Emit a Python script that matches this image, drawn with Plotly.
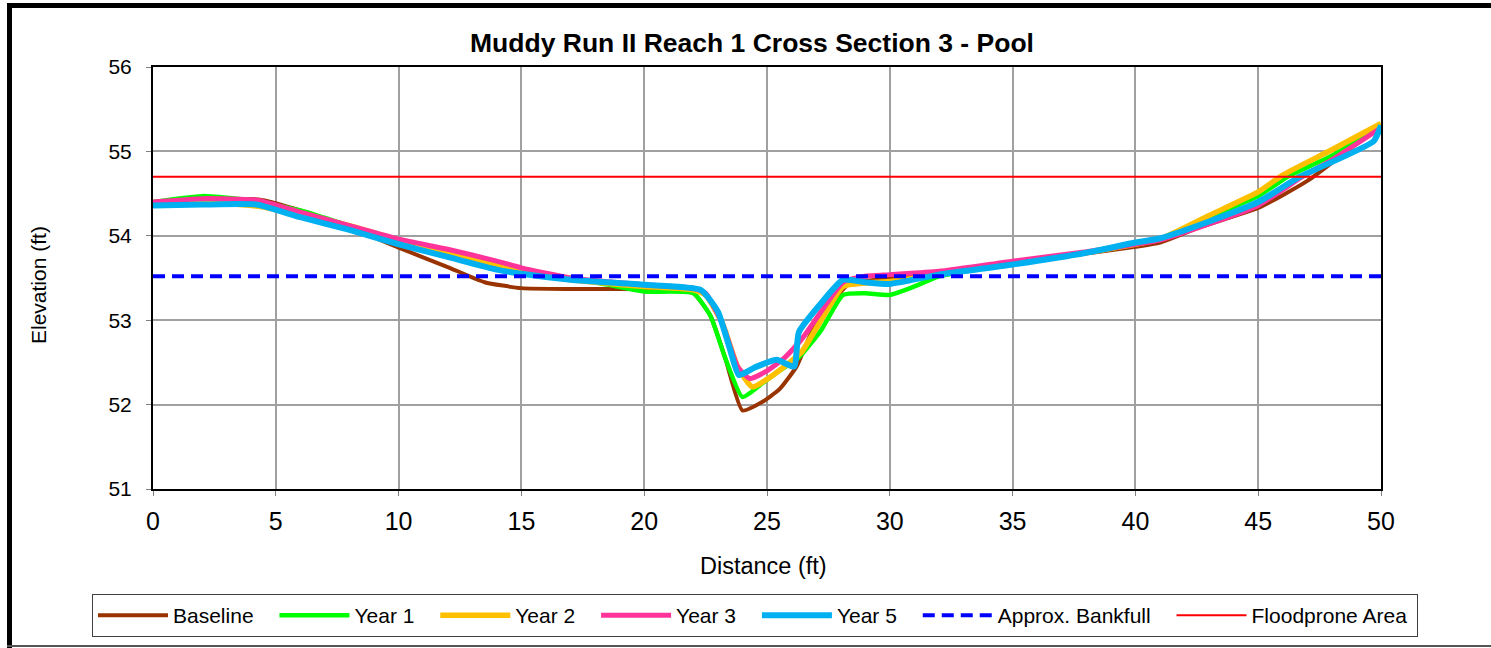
import plotly.graph_objects as go

# ---- data ----
base_x = [0, 2, 4.3, 6, 8, 10, 12, 13.5, 15, 17, 19, 21, 22, 22.7, 23.3, 24, 24.8, 25.5, 26.2, 26.8, 27.5, 28.3, 30, 32, 35, 38, 40, 41, 42.6, 45, 47, 50]
base_y = [54.38, 54.42, 54.43, 54.30, 54.10, 53.86, 53.63, 53.45, 53.38, 53.37, 53.37, 53.36, 53.32, 53.05, 52.55, 51.93, 52.03, 52.18, 52.45, 52.85, 53.15, 53.42, 53.50, 53.56, 53.68, 53.79, 53.87, 53.92, 54.10, 54.33, 54.65, 55.32]

y1_x = [0, 2, 4, 6, 8, 10, 12, 14, 15, 16, 18, 20, 22, 22.7, 23.3, 24, 24.8, 25.5, 26.3, 27.2, 28.1, 29, 30, 31, 32, 35, 38, 40, 41, 43, 45, 46.2, 48, 50]
y1_y = [54.40, 54.47, 54.42, 54.30, 54.12, 53.95, 53.82, 53.67, 53.60, 53.55, 53.45, 53.34, 53.32, 53.05, 52.55, 52.09, 52.25, 52.40, 52.56, 52.88, 53.30, 53.32, 53.30, 53.40, 53.52, 53.67, 53.80, 53.90, 53.97, 54.22, 54.47, 54.70, 54.95, 55.30]

y2_x = [0, 2, 4.3, 6, 8, 10, 12, 14, 15, 17, 20, 22, 22.5, 23.2, 23.8, 24.4, 25, 25.7, 26.4, 27.2, 28.1, 29, 30, 32, 35, 38, 40, 41, 43, 45, 46, 48, 50]
y2_y = [54.38, 54.40, 54.35, 54.25, 54.12, 53.95, 53.80, 53.64, 53.57, 53.48, 53.40, 53.36, 53.30, 52.95, 52.45, 52.21, 52.30, 52.45, 52.62, 53.00, 53.40, 53.44, 53.46, 53.54, 53.67, 53.80, 53.90, 53.96, 54.24, 54.52, 54.72, 55.02, 55.33]

y3_x = [0, 2, 4.3, 6, 8, 10, 12, 14, 15, 17, 20, 22, 22.5, 23.2, 23.8, 24.3, 25, 25.7, 26.4, 27.2, 28.1, 29, 30, 32, 35, 38, 40, 41, 43, 45, 46.8, 48, 50]
y3_y = [54.40, 54.44, 54.42, 54.28, 54.12, 53.96, 53.84, 53.70, 53.62, 53.50, 53.42, 53.38, 53.32, 52.95, 52.45, 52.31, 52.40, 52.55, 52.77, 53.10, 53.45, 53.52, 53.54, 53.58, 53.70, 53.81, 53.90, 53.95, 54.14, 54.36, 54.70, 54.90, 55.28]

y5_x = [0, 2, 4.2, 6, 8, 10, 12, 14, 15, 17, 20, 22.3, 23, 23.5, 23.85, 24.5, 25.4, 26.1, 26.3, 27.2, 28.1, 29, 30, 32, 35, 38, 40, 41, 43, 45, 46.7, 49.7, 50]
y5_y = [54.36, 54.37, 54.37, 54.22, 54.07, 53.90, 53.75, 53.60, 53.55, 53.48, 53.42, 53.36, 53.10, 52.65, 52.35, 52.44, 52.53, 52.45, 52.86, 53.20, 53.48, 53.45, 53.43, 53.54, 53.66, 53.80, 53.92, 53.97, 54.17, 54.40, 54.70, 55.12, 55.31]

bankfull_x = [0, 50]
bankfull_y = [53.52, 53.52]
flood_x = [0, 50]
flood_y = [54.70, 54.70]

x_ticks = [0, 5, 10, 15, 20, 25, 30, 35, 40, 45, 50]
y_ticks = [51, 52, 53, 54, 55, 56]

FONT = "Liberation Sans, Arial, sans-serif"
PAD = "\u00a0\u00a0\u2009"

fig = go.Figure()
series = [
    ("Baseline", base_x, base_y, "#993300", 4),
    ("Year 1", y1_x, y1_y, "#00FF00", 4.5),
    ("Year 2", y2_x, y2_y, "#FFC000", 5.5),
    ("Year 3", y3_x, y3_y, "#FF3399", 5),
    ("Year 5", y5_x, y5_y, "#00B0F0", 6),
]
for name, xs, ys, col, w in series:
    fig.add_trace(go.Scatter(x=xs, y=ys, mode="lines", name=name + PAD,
                             line=dict(color=col, width=w, shape="spline", smoothing=0.5)))
fig.add_trace(go.Scatter(x=bankfull_x, y=bankfull_y, mode="lines", name="Approx. Bankfull" + PAD,
                         line=dict(color="#0000FF", width=4, dash="12px,7px")))
fig.add_trace(go.Scatter(x=flood_x, y=flood_y, mode="lines", name="Floodprone Area\u2009",
                         line=dict(color="#FF0000", width=2)))

L, R, T, B = 153, 110, 67, 159
W, H = 1491, 648
PW, PH = W - L - R, H - T - B

def px(xp):
    return (xp - L) / PW

def py(yp):
    return (H - B - yp) / PH

fig.update_layout(
    width=W, height=H,
    margin=dict(l=L, r=R, t=T, b=B, autoexpand=False),
    paper_bgcolor="white", plot_bgcolor="white",
    font=dict(family=FONT, color="black"),
    title=dict(text="<b>Muddy Run II Reach 1 Cross Section 3 - Pool</b>",
               font=dict(size=26.5, family=FONT, color="black"),
               x=752 / W, xanchor="center", y=1 - 43 / H, yanchor="middle",
               xref="container", yref="container"),
    showlegend=True,
    legend=dict(orientation="h", x=px(92), xanchor="left", y=py(594), yanchor="top",
                bordercolor="#404040", borderwidth=1, bgcolor="white",
                font=dict(size=21, family=FONT, color="black"), itemwidth=70,
                traceorder="normal"),
    xaxis=dict(range=[0, 50], tickvals=x_ticks, ticks="outside", ticklen=5, tickcolor="#808080",
               showgrid=True, gridcolor="#A0A0A0", gridwidth=1.5,
               showline=True, linecolor="black", linewidth=2, mirror=True,
               tickfont=dict(size=25, family=FONT, color="black"), zeroline=False,
               ticklabelstandoff=4),
    yaxis=dict(range=[51, 56], tickvals=y_ticks, ticks="outside", ticklen=5, tickcolor="#808080",
               showgrid=True, gridcolor="#A0A0A0", gridwidth=1.5,
               showline=True, linecolor="black", linewidth=2, mirror=True,
               tickfont=dict(size=21, family=FONT, color="black"), zeroline=False,
               ticklabelstandoff=10),
    annotations=[
        dict(text="Distance (ft)", x=px(763), y=py(566), xref="paper", yref="paper",
             showarrow=False, xanchor="center", yanchor="middle",
             font=dict(size=23.5, family=FONT, color="black")),
        dict(text="Elevation (ft)", x=px(38), y=py(285), xref="paper", yref="paper",
             showarrow=False, xanchor="center", yanchor="middle", textangle=-90,
             font=dict(size=21, family=FONT, color="black")),
    ],
    shapes=[
        dict(type="line", xref="paper", yref="paper", x0=px(7), x1=px(1500), y0=py(5.5), y1=py(5.5),
             line=dict(color="black", width=5)),
        dict(type="line", xref="paper", yref="paper", x0=px(9.5), x1=px(9.5), y0=py(3), y1=py(660),
             line=dict(color="black", width=5)),
        dict(type="line", xref="paper", yref="paper", x0=px(7), x1=px(1500), y0=py(646), y1=py(646),
             line=dict(color="#555555", width=2)),
    ],
)

fig.write_html("out.html", config={"displayModeBar": False},
               post_script="document.body.style.margin='0px';document.body.style.overflow='hidden';")
